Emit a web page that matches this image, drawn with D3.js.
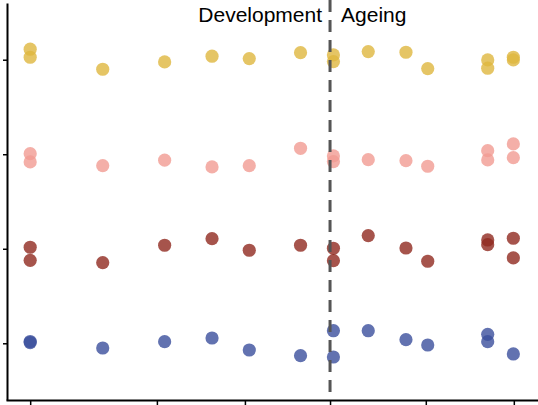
<!DOCTYPE html>
<html>
<head>
<meta charset="utf-8">
<script src="https://cdn.jsdelivr.net/npm/d3@7"></script>
<style>
  body { margin: 0; background: #fff; }
  svg { display: block; }
</style>
</head>
<body>
<div id="scatter"></div>
<script>
// sample ages (x) shared by all four series
var ages = [0, 0, 15.0, 27.8, 37.6, 45.3, 55.9, 62.7, 62.7, 69.9, 77.7, 82.2, 94.6, 94.6, 99.9, 99.9];

var yellowVals = [3.111, 3.026, 2.899, 2.977, 3.037, 3.012, 3.075, 3.051, 2.980, 3.086, 3.079, 2.906, 2.998, 2.910, 3.026, 2.998];
var pinkVals   = [2.006, 1.919, 1.879, 1.937, 1.866, 1.879, 2.063, 1.982, 1.922, 1.943, 1.932, 1.873, 2.038, 1.940, 2.109, 1.964];
var redVals    = [1.016, 0.878, 0.853, 1.037, 1.107, 0.984, 1.037, 1.005, 0.874, 1.139, 1.008, 0.868, 1.093, 1.043, 1.111, 0.903];
var blueVals   = [0.019, 0.008, -0.050, 0.017, 0.056, -0.071, -0.131, 0.133, -0.145, 0.133, 0.038, -0.018, 0.095, 0.017, -0.113, null];

var xTicks = [0, 26.2, 44.4, 62, 81.8, 100];
var yTicks = [0, 1, 2, 3];
var splitAge = 62;

var series = [
    {name: "yellow", values: yellowVals, color: "#DEB73E"},
    {name: "pink", values: pinkVals, color: "#F19B92"},
    {name: "red", values: redVals, color: "#90291F"},
    {name: "blue", values: blueVals, color: "#3B4F9C"}
];

var width = 538, height = 405;

var svg = d3.select("#scatter")
    .append("svg")
    .attr("width", width)
    .attr("height", height);

var x = d3.scaleLinear()
    .domain([-5, 105])
    .range([6, 538]);

var y = d3.scaleLinear()
    .domain([-0.6, 3.6])
    .range([400, 3]);

// points
series.forEach(function(s) {
    var pts = ages.map(function(a, i) { return {age: a, v: s.values[i]}; })
        .filter(function(d) { return d.v != null; });
    svg.append("g")
        .selectAll("circle")
        .data(pts)
        .enter()
        .append("circle")
        .attr("cx", d => x(d.age))
        .attr("cy", d => y(d.v))
        .attr("r", 6.6)
        .attr("opacity", 0.8)
        .style("fill", s.color);
});

// dashed split line
svg.append("line")
    .attr("x1", x(splitAge))
    .attr("x2", x(splitAge))
    .attr("y1", 0)
    .attr("y2", 400)
    .attr("stroke", "#555")
    .attr("stroke-width", 3)
    .attr("stroke-dasharray", "12,8");

svg.append("text")
    .attr("x", x(splitAge) - 8)
    .attr("y", 22)
    .attr("text-anchor", "end")
    .style("font-family", "Liberation Sans, Arial, sans-serif")
    .style("font-size", "21px")
    .text("Development");

svg.append("text")
    .attr("x", x(splitAge) + 11)
    .attr("y", 22)
    .attr("text-anchor", "start")
    .style("font-family", "Liberation Sans, Arial, sans-serif")
    .style("font-size", "21px")
    .text("Ageing");

// axes
var xAxis = svg.append("g")
    .attr("transform", "translate(0,400)")
    .call(d3.axisBottom(x).tickValues(xTicks).tickFormat("").tickSize(6).tickSizeOuter(0));

var yAxis = svg.append("g")
    .attr("transform", "translate(7,0)")
    .call(d3.axisLeft(y).tickValues(yTicks).tickFormat("").tickSize(4).tickSizeOuter(0));

svg.selectAll(".domain").attr("stroke", "#000").attr("stroke-width", 2);
svg.selectAll(".tick line").attr("stroke", "#000").attr("stroke-width", 1.5);
</script>
</body>
</html>
